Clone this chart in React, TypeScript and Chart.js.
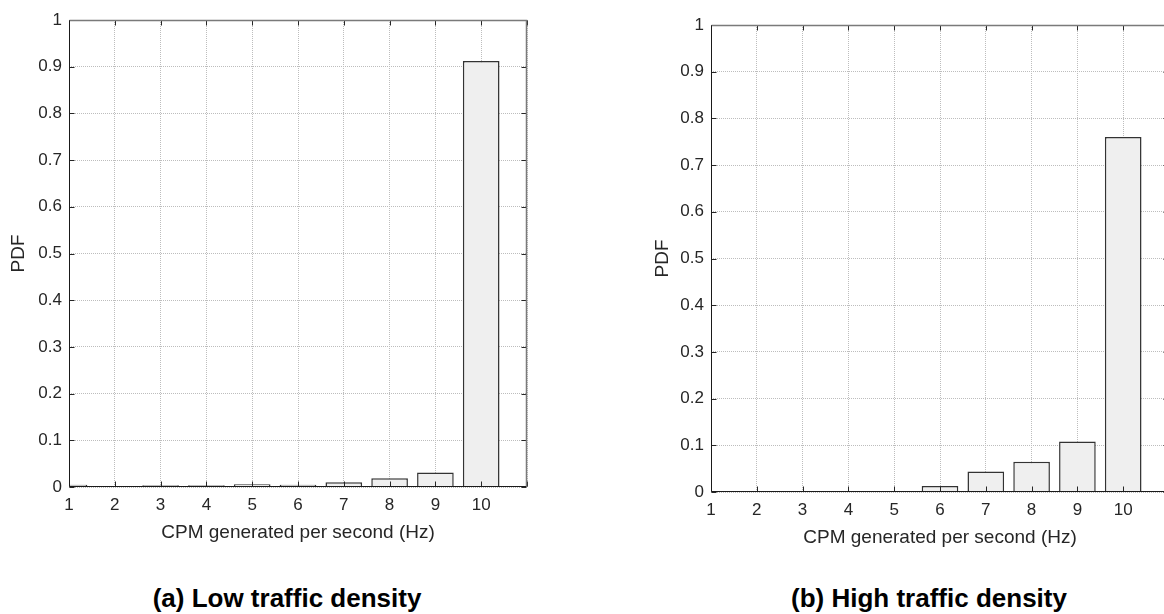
import React, { useEffect, useRef } from "react";
import { Chart, registerables } from "chart.js";

Chart.register(...registerables);

// ---- data ----
const rates = [1, 2, 3, 4, 5, 6, 7, 8, 9, 10, 11];
const lowTrafficPdf = [0.005, 0.002, 0.004, 0.004, 0.006, 0.005, 0.01, 0.019, 0.031, 0.912, 0.001];
const highTrafficPdf = [0.002, 0.002, 0.002, 0.002, 0.002, 0.013, 0.044, 0.065, 0.108, 0.76, 0.001];
const yTickValues = [0, 0.1, 0.2, 0.3, 0.4, 0.5, 0.6, 0.7, 0.8, 0.9, 1];
const xTickLabels = ["1", "2", "3", "4", "5", "6", "7", "8", "9", "10", ""];
const xAxisTitle = "CPM generated per second (Hz)";
const yAxisTitle = "PDF";
const captionA = "(a) Low traffic density";
const captionB = "(b) High traffic density";

const FONT = "'Liberation Sans', Arial, Helvetica, sans-serif";
const CW = 580;
const CH = 560;
const PAD_TOP = 20;
const Y_W = 69;
const X_H = 73;
const PAD_RIGHT = 53;

const framePlugin = {
  id: "matlabFrame",
  afterDatasetsDraw(chart: any) {
    const { ctx, chartArea, scales } = chart;
    const { left, right, top, bottom } = chartArea;
    const L = Math.round(left) + 0.5;
    const R = Math.round(right) - 0.5;
    const T = Math.round(top) + 0.5;
    const B = Math.round(bottom) - 0.5;
    ctx.save();
    ctx.lineWidth = 1;
    ctx.strokeStyle = "#262626";
    const tl = 5;
    rates.forEach((v) => {
      const px = Math.round(scales.x.getPixelForValue(v)) + 0.5;
      ctx.beginPath();
      ctx.moveTo(px, B);
      ctx.lineTo(px, B - tl);
      ctx.moveTo(px, T);
      ctx.lineTo(px, T + tl);
      ctx.stroke();
    });
    yTickValues.forEach((v) => {
      const py = Math.round(scales.y.getPixelForValue(v)) + 0.5;
      ctx.beginPath();
      ctx.moveTo(L, py);
      ctx.lineTo(L + tl, py);
      ctx.moveTo(R, py);
      ctx.lineTo(R - tl, py);
      ctx.stroke();
    });
    // box
    ctx.strokeStyle = "#7a7a7a";
    ctx.lineWidth = 1.5;
    ctx.beginPath();
    ctx.moveTo(L, T);
    ctx.lineTo(R, T);
    ctx.lineTo(R, B);
    ctx.stroke();
    ctx.strokeStyle = "#1a1a1a";
    ctx.lineWidth = 1;
    ctx.beginPath();
    ctx.moveTo(L, T);
    ctx.lineTo(L, B);
    ctx.lineTo(R, B);
    ctx.stroke();
    ctx.restore();
  },
};

type PanelProps = {
  values: number[];
  left: number;
  top: number;
  yTitlePad: number;
  xTitlePad: number;
};

function Panel({ values, left, top, yTitlePad, xTitlePad }: PanelProps) {
  const ref = useRef<HTMLCanvasElement | null>(null);
  useEffect(() => {
    if (!ref.current) return;
    const chart = new Chart(ref.current, {
      type: "bar",
      data: {
        datasets: [
          {
            data: rates.map((r, i) => ({ x: r, y: values[i] })),
            backgroundColor: "#efefef",
            borderColor: "#333333",
            borderWidth: 1.5,
            categoryPercentage: 1,
            barPercentage: 0.8,
            clip: 0,
          } as any,
        ],
      },
      options: {
        responsive: false,
        animation: false,
        layout: { padding: { top: PAD_TOP, right: PAD_RIGHT, left: 0, bottom: 0 } },
        plugins: { legend: { display: false }, tooltip: { enabled: false } },
        scales: {
          x: {
            type: "linear",
            min: 1,
            max: 11,
            offset: false,
            afterFit: (s: any) => {
              s.height = X_H;
            },
            afterBuildTicks: (s: any) => {
              s.ticks = rates.map((v) => ({ value: v }));
            },
            ticks: {
              autoSkip: false,
              maxRotation: 0,
              padding: 8,
              color: "#262626",
              font: { family: FONT, size: 17 },
              callback: (v: any) => xTickLabels[rates.indexOf(Number(v))] ?? "",
            },
            grid: { color: "#bdbdbd", lineWidth: 1, drawTicks: false, offset: false },
            border: { display: false, dash: [1, 1] },
            title: {
              display: true,
              text: xAxisTitle,
              color: "#262626",
              font: { family: FONT, size: 19 },
              padding: { top: 0, bottom: xTitlePad },
            },
          } as any,
          y: {
            type: "linear",
            min: 0,
            max: 1,
            afterFit: (s: any) => {
              s.width = Y_W;
            },
            afterBuildTicks: (s: any) => {
              s.ticks = yTickValues.map((v) => ({ value: v }));
            },
            ticks: {
              padding: 7,
              color: "#262626",
              font: { family: FONT, size: 17 },
              callback: (v: any) => String(Math.round(Number(v) * 10) / 10),
            },
            grid: { color: "#bdbdbd", lineWidth: 1, drawTicks: false },
            border: { display: false, dash: [1, 1] },
            title: {
              display: true,
              text: yAxisTitle,
              color: "#262626",
              font: { family: FONT, size: 19 },
              padding: { top: yTitlePad, bottom: 0 },
            },
          } as any,
        },
      },
      plugins: [framePlugin],
    });
    return () => chart.destroy();
  }, [values]);
  return (
    <canvas
      ref={ref}
      width={CW}
      height={CH}
      style={{ position: "absolute", left, top, width: CW, height: CH, display: "block" }}
    />
  );
}

const captionStyle: React.CSSProperties = {
  position: "absolute",
  top: 583,
  width: 500,
  textAlign: "center",
  fontFamily: FONT,
  fontWeight: "bold",
  fontSize: 26,
  color: "#000",
  lineHeight: "30px",
  whiteSpace: "nowrap",
};

export default function App() {
  return (
    <div
      style={{
        position: "fixed",
        left: 0,
        top: 0,
        width: 1164,
        height: 614,
        overflow: "hidden",
        background: "#fff",
      }}
    >
      <Panel values={lowTrafficPdf} left={0} top={0} yTitlePad={7} xTitlePad={16} />
      <Panel values={highTrafficPdf} left={642} top={5} yTitlePad={9} xTitlePad={16} />
      <div style={{ ...captionStyle, left: 287 - 250 }}>{captionA}</div>
      <div style={{ ...captionStyle, left: 929 - 250 }}>{captionB}</div>
    </div>
  );
}
